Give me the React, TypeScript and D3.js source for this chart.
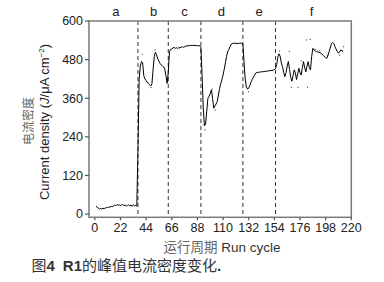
import React from "react";
import * as d3 from "d3";

const cycles = [1,2,3,4,5,6,7,8,9,10,11,12,13,14,15,16,17,18,19,20,21,22,23,24,25,26,27,28,29,30,31,32,33,34,35,36,
  37,38,39,40,41,42,43,44,46,48,49,50,51,52,53,54,55,56,57,58,59,60,61,62,63,64,65,
  66,67,68,69,70,71,72,73,74,75,76,78,80,82,84,86,88,90,91,
  92,93,94,95,96,97,98,99,100,101,102,103,104,105,106,107,108,109,110,111,112,113,114,115,116,117,118,120,122,124,126,127,
  128,129,130,131,132,133,134,135,136,137,138,139,141,143,145,147,149,151,153,155,
  156,157,158,159,160,161,162,163,164,165,166,167,168,169,170,171,172,173,174,175,176,177,178,179,180,181,182,183,184,185,186,187,188,189,190,192,194,196,198,199,201,203,204,205,206,208,209,211,213];
const current = [24,22,18,16,17,16,18,17,19,20,21,21,22,24,23,25,28,26,30,27,29,26,28,30,26,28,25,27,29,26,28,24,29,26,27,25,
  200,420,460,474,470,430,420,415,405,398,405,450,490,503,495,482,475,468,463,460,458,450,430,406,440,505,512,
  513,516,518,515,517,514,518,516,519,520,518,522,523,524,524,524,523,523,518,
  430,330,274,280,320,360,366,375,386,360,329,336,342,350,370,390,405,418,432,450,470,490,505,512,520,528,530,531,530,531,531,529,
  470,420,395,388,392,400,410,418,425,432,438,440,441,442,443,444,445,446,447,452,
  465,488,498,490,470,458,440,427,440,460,474,450,425,413,430,448,440,418,435,453,440,432,455,474,455,442,460,474,455,448,490,515,510,507,505,503,500,493,486,484,505,530,534,530,520,505,500,510,505];

const dotX = [40.7,48.2,51.6,94.5,100.6,103.2,131.8,158.5,166.8,168.5,174.2,177.1,181.4,184.8,182.5,189,193,200,210,213.4];
const dotY = [497,393,510,262,388,323,380,507,505,394,394,476,541,543,394,512,507,492,494,520];

const phaseBounds = [37, 63, 91, 127, 155];
const phaseNames = ["a", "b", "c", "d", "e", "f"];
const phaseLabelX = [18, 50.5, 77, 108.5, 141, 186];
const xTicks = [0,22,44,66,88,110,132,154,176,198,220];
const yTicks = [0,120,240,360,480,600];

const W = 384, H = 282;
const LEFT = 89, RIGHT = 351.3, TOP = 21, BOTTOM = 217.3;
const latin = "'Liberation Sans', Arial, sans-serif";
const cjk = "'Noto Sans CJK SC', sans-serif";

export default function App() {
  const x = d3.scaleLinear().domain([-5, 220]).range([LEFT, RIGHT]);
  const y = d3.scaleLinear().domain([-10, 600]).range([BOTTOM, TOP]);
  const pts: [number, number][] = cycles.map((c, i) => [c, current[i]]);
  const line = d3.line<[number, number]>().x(d => x(d[0])).y(d => y(d[1]));
  return (
    <svg width={W} height={H} style={{ position: "absolute", left: 0, top: 0, background: "#fff" }}>
      {/* phase labels */}
      {phaseNames.map((n, i) => (
        <text key={n} x={x(phaseLabelX[i])} y={15.5} textAnchor="middle" fontFamily={latin} fontSize={13} fill="#222">{n}</text>
      ))}
      {/* dashed lines */}
      {phaseBounds.map(b => (
        <line key={b} x1={x(b)} x2={x(b)} y1={TOP} y2={BOTTOM} stroke="#333" strokeWidth={1} strokeDasharray="4,3" />
      ))}
      {/* data line */}
      <path d={line(pts) || ""} fill="none" stroke="#000" strokeWidth={1} strokeLinejoin="round" />
      {dotX.map((dx, i) => (
        <rect key={i} x={x(dx) - 0.5} y={y(dotY[i]) - 0.5} width={1} height={1} fill="#222" />
      ))}
      {/* frame */}
      <rect x={LEFT} y={TOP} width={RIGHT - LEFT} height={BOTTOM - TOP} fill="none" stroke="#7a7a7a" strokeWidth={1.5} />
      {/* y ticks */}
      {yTicks.map(t => (
        <g key={t}>
          <line x1={LEFT - 4} x2={LEFT} y1={y(t)} y2={y(t)} stroke="#555" strokeWidth={1.2} />
          <text x={LEFT - 6} y={y(t) + 4.3} textAnchor="end" fontFamily={latin} fontSize={12.5} fill="#222">{t}</text>
        </g>
      ))}
      {/* x ticks */}
      {xTicks.map(t => (
        <g key={t}>
          <line x1={x(t)} x2={x(t)} y1={BOTTOM} y2={BOTTOM + 3} stroke="#555" strokeWidth={1.2} />
          <text x={x(t)} y={231.5} textAnchor="middle" fontFamily={latin} fontSize={12.5} fill="#222">{t}</text>
        </g>
      ))}
      {/* x title */}
      <text x={222} y={251.5} textAnchor="middle" fontSize={13.5} fill="#333">
        <tspan fontFamily={cjk} fill="#666">运行周期</tspan>
        <tspan fontFamily={latin}> Run cycle</tspan>
      </text>
      {/* y titles */}
      <text transform="translate(33,121) rotate(-90)" textAnchor="middle" fontFamily={cjk} fontSize={12} fill="#666">电流密度</text>
      <text transform="translate(49,122) rotate(-90)" textAnchor="middle" fontFamily={latin} fontSize={13} fill="#222">
        Current density (<tspan fontStyle="italic">J</tspan>/μA cm<tspan fontSize={8} dy={-5}>−2</tspan><tspan dy={5}>)</tspan>
      </text>
      {/* caption */}
      <text x={31.5} y={271} fontSize={15} fill="#333">
        <tspan fontFamily={cjk}>图</tspan>
        <tspan fontFamily={latin} fontWeight="bold">4</tspan>
        <tspan fontFamily={latin} fontWeight="bold" dx={8}>R1</tspan>
        <tspan fontFamily={cjk}>的峰值电流密度变化</tspan>
        <tspan fontFamily={latin} fontWeight="bold">.</tspan>
      </text>
    </svg>
  );
}
